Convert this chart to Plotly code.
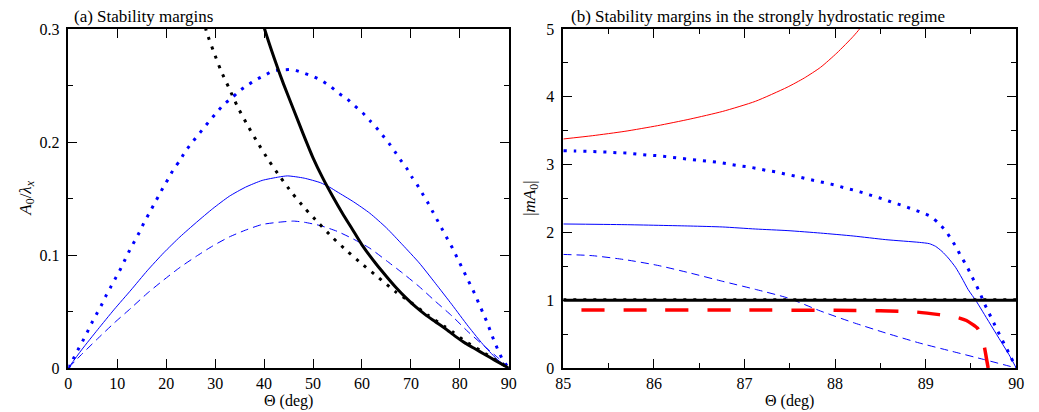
import plotly.graph_objects as go

# ---------------- Panel (a) data ----------------
a_blue_dot_x = [0, 1.0, 1.95, 2.95, 3.9, 4.8, 5.8, 6.8, 7.7, 8.7, 9.7, 10.7, 11.6, 12.5, 13.5, 14.5, 15.4,
                16.4, 17.4, 18.4, 19.4, 20.5, 21.5, 22.7, 23.8, 25.0, 26.3, 27.6, 28.9, 30.3, 31.7, 33.4,
                34.9, 36.5, 38.3, 40.1, 41.9, 44.3, 46.0, 48.1, 50.0, 51.9, 53.6, 55.3, 57.0, 58.5, 60.1,
                61.6, 62.9, 64.2, 65.5, 66.8, 67.9, 69.1, 70.2, 71.3, 72.4, 73.5, 74.5, 75.5, 76.5, 77.5,
                78.5, 79.4, 80.3, 81.2, 82.1, 83.0, 83.8, 84.7, 85.5, 86.3, 87.0, 87.9, 88.8, 90.0]
a_blue_dot_y = [0, 0.008, 0.016, 0.024, 0.032, 0.040, 0.048, 0.056, 0.064, 0.072, 0.080, 0.088, 0.096,
                0.104, 0.112, 0.120, 0.128, 0.136, 0.144, 0.152, 0.160, 0.168, 0.176, 0.183, 0.191, 0.198,
                0.205, 0.212, 0.219, 0.226, 0.233, 0.239, 0.245, 0.250, 0.255, 0.259, 0.263, 0.264, 0.264,
                0.261, 0.258, 0.254, 0.249, 0.243, 0.238, 0.232, 0.226, 0.219, 0.213, 0.206, 0.199, 0.191,
                0.184, 0.177, 0.169, 0.162, 0.154, 0.146, 0.138, 0.130, 0.122, 0.114, 0.106, 0.098, 0.090,
                0.082, 0.074, 0.066, 0.058, 0.049, 0.041, 0.032, 0.024, 0.015, 0.007, 0.0]

a_blue_solid_x = [0, 2.7, 6.0, 9.4, 12.8, 16.1, 19.5, 22.8, 26.2, 29.5, 32.9, 36.2, 39.6, 43.0, 44.8,
                  48.2, 51.5, 53.4, 54.9, 58.3, 61.6, 65.0, 68.3, 71.7, 75.0, 78.4, 81.7, 85.1, 87.8, 90.0]
a_blue_solid_y = [0, 0.016, 0.034, 0.052, 0.069, 0.086, 0.102, 0.116, 0.129, 0.141, 0.152, 0.160, 0.166,
                  0.169, 0.170, 0.168, 0.164, 0.160, 0.156, 0.147, 0.137, 0.124, 0.109, 0.093, 0.075,
                  0.056, 0.037, 0.019, 0.007, 0.0]

a_blue_dash_x = [0, 2.7, 6.0, 9.4, 12.8, 16.1, 19.5, 22.8, 26.2, 29.5, 32.9, 36.2, 39.6, 43.0, 46.0,
                 48.2, 51.5, 54.9, 58.3, 61.6, 65.0, 68.3, 71.7, 75.0, 78.4, 81.7, 85.1, 87.8, 90.0]
a_blue_dash_y = [0, 0.012, 0.026, 0.040, 0.053, 0.066, 0.078, 0.089, 0.099, 0.108, 0.116, 0.122, 0.127,
                 0.129, 0.130, 0.129, 0.126, 0.121, 0.114, 0.106, 0.095, 0.084, 0.072, 0.059, 0.046,
                 0.032, 0.019, 0.009, 0.0]

a_black_solid_x = [39.3, 40.1, 42.0, 44.0, 46.0, 48.0, 50.0, 52.0, 54.0, 56.0, 58.0, 60.0, 62.9, 65.0,
                   67.0, 69.0, 71.0, 73.0, 75.0, 77.0, 79.1, 81.1, 83.1, 85.1, 87.1, 90.0]
a_black_solid_y = [0.312, 0.300, 0.275, 0.251, 0.229, 0.207, 0.186, 0.168, 0.152, 0.137, 0.123, 0.109,
                   0.092, 0.081, 0.071, 0.062, 0.054, 0.047, 0.041, 0.035, 0.028, 0.022, 0.017, 0.012,
                   0.007, 0.0]

a_black_dot_x = [27.6, 28.2, 29.6, 31.1, 32.8, 34.6, 36.6, 38.6, 40.9, 43.3, 45.7, 48.4, 51.2, 54.1, 57.1,
                 60.3, 63.4, 66.7, 70.0, 73.4, 76.8, 78.5, 81.0, 84.0, 87.0, 90.0]
a_black_dot_y = [0.31, 0.298, 0.281, 0.264, 0.248, 0.231, 0.215, 0.200, 0.184, 0.169, 0.155, 0.141,
                 0.128, 0.115, 0.103, 0.091, 0.080, 0.068, 0.058, 0.047, 0.037, 0.032, 0.024, 0.016,
                 0.008, 0.0]

# ---------------- Panel (b) data ----------------
b_red_solid_x = [85.0, 85.32, 85.68, 86.04, 86.40, 86.76, 87.12, 87.47, 87.66, 87.84, 88.02, 88.20, 88.27, 88.35]
b_red_solid_y = [3.378, 3.426, 3.491, 3.574, 3.672, 3.785, 3.933, 4.14, 4.277, 4.435, 4.646, 4.89, 5.0, 5.15]

b_blue_dot_x = [85.0, 85.14, 85.26, 85.37, 85.48, 85.59, 85.70, 85.81, 85.92, 86.03, 86.14, 86.25, 86.36,
                86.47, 86.58, 86.69, 86.80, 86.91, 87.02, 87.13, 87.24, 87.35, 87.45, 87.57, 87.68, 87.79,
                87.90, 88.01, 88.11, 88.22, 88.33, 88.43, 88.54, 88.64, 88.75, 88.85, 88.96, 89.06, 89.14,
                89.22, 89.28, 89.34, 89.39, 89.45, 89.50, 89.55, 89.60, 89.64, 89.69, 89.74, 89.79, 89.84,
                89.89, 89.94, 90.0]
b_blue_dot_y = [3.205, 3.20, 3.196, 3.19, 3.186, 3.176, 3.171, 3.156, 3.142, 3.132, 3.117, 3.100, 3.083,
                3.068, 3.053, 3.038, 3.014, 2.989, 2.970, 2.945, 2.915, 2.891, 2.861, 2.827, 2.792, 2.760,
                2.729, 2.694, 2.655, 2.620, 2.576, 2.532, 2.488, 2.439, 2.394, 2.345, 2.291, 2.232, 2.139,
                2.026, 1.903, 1.775, 1.647, 1.514, 1.377, 1.244, 1.106, 0.973, 0.836, 0.698, 0.560, 0.428,
                0.295, 0.162, 0.0]

b_blue_solid_x = [85.0, 85.68, 86.40, 86.76, 87.12, 87.48, 87.84, 88.20, 88.56, 88.93, 89.04, 89.11, 89.18,
                  89.25, 89.33, 89.40, 89.47, 89.56, 89.65, 89.74, 89.83, 89.92, 90.0]
b_blue_solid_y = [2.124, 2.114, 2.094, 2.080, 2.050, 2.026, 1.990, 1.947, 1.893, 1.853, 1.834, 1.794, 1.720,
                  1.622, 1.485, 1.327, 1.155, 0.983, 0.787, 0.590, 0.393, 0.197, 0.0]

b_blue_dash_x = [85.0, 85.32, 85.68, 86.04, 86.40, 86.76, 87.12, 87.48, 87.84, 88.20, 88.56, 88.93, 89.29,
                 89.65, 90.0]
b_blue_dash_y = [1.675, 1.657, 1.598, 1.514, 1.401, 1.278, 1.160, 1.032, 0.840, 0.670, 0.516, 0.369, 0.246,
                 0.123, 0.0]

b_black_x = [85.0, 90.0]
b_black_y = [1.0, 1.0]
b_black_dot_y = [1.015, 1.015]

b_red_dash_x = [85.2, 86.0, 87.0, 88.0, 88.5, 88.9, 89.15, 89.35, 89.45, 89.57, 89.60, 89.63, 89.65,
                89.67, 89.69]
b_red_dash_y = [0.855, 0.855, 0.855, 0.85, 0.843, 0.825, 0.787, 0.745, 0.70, 0.59, 0.52, 0.40, 0.30,
                0.15, 0.0]

BLUE = "#0000ff"
RED = "#ff0000"
BLACK = "#000000"
FONT = "Liberation Serif"

fig = go.Figure()

def add(x, y, color, width, dash, xa="x", ya="y", smooth=True):
    fig.add_trace(go.Scatter(x=x, y=y, mode="lines", xaxis=xa, yaxis=ya,
                             line=dict(color=color, width=width, dash=dash,
                                       shape="spline" if smooth else "linear",
                                       smoothing=0.6),
                             showlegend=False, hoverinfo="skip"))

DOT = "3px,7px"
# Panel (a)
add(a_blue_dot_x, a_blue_dot_y, BLUE, 3, DOT)
add(a_blue_solid_x, a_blue_solid_y, BLUE, 1, "solid")
add(a_blue_dash_x, a_blue_dash_y, BLUE, 1, "8px,5px")
add(a_black_dot_x, a_black_dot_y, BLACK, 3, DOT)
add(a_black_solid_x, a_black_solid_y, BLACK, 3, "solid")

# Panel (b)
add(b_blue_dot_x, b_blue_dot_y, BLUE, 3, DOT, "x2", "y2")
add(b_blue_solid_x, b_blue_solid_y, BLUE, 1, "solid", "x2", "y2")
add(b_blue_dash_x, b_blue_dash_y, BLUE, 1, "8px,5px", "x2", "y2")
add(b_black_x, b_black_dot_y, BLACK, 2, DOT, "x2", "y2", smooth=False)
add(b_black_x, b_black_y, BLACK, 3, "solid", "x2", "y2", smooth=False)
add(b_red_solid_x, b_red_solid_y, RED, 1, "solid", "x2", "y2")
add(b_red_dash_x, b_red_dash_y, RED, 3.5, "23px,19px", "x2", "y2")

W, H = 1039, 412
L1, R1 = 61.3, 508.6
L2, R2 = 564.0, 1024.0
TOP, BOT = 29, 368

axis_common = dict(showline=True, linecolor=BLACK, linewidth=1.5, mirror="allticks",
                   ticks="inside", ticklen=9, tickwidth=1, tickcolor=BLACK,
                   showgrid=False, zeroline=False,
                   tickfont=dict(family=FONT, size=16, color=BLACK))

fig.update_layout(
    width=W, height=H,
    margin=dict(l=0, r=0, t=TOP, b=H - BOT),
    paper_bgcolor="white", plot_bgcolor="white",
    xaxis=dict(domain=[L1 / W, R1 / W], range=[0, 90], tickvals=[0, 10, 20, 30, 40, 50, 60, 70, 80, 90],
               anchor="y", **axis_common),
    yaxis=dict(domain=[0, 1], range=[0, 0.3], tickvals=[0, 0.1, 0.2, 0.3],
               ticktext=["0", "0.1", "0.2", "0.3"], anchor="x", ticklabelstandoff=4,
               minor=dict(tickvals=[0.05, 0.15, 0.25], ticklen=5, ticks="inside", tickcolor=BLACK),
               **axis_common),
    xaxis2=dict(domain=[L2 / W, R2 / W], range=[85, 90], tickvals=[85, 86, 87, 88, 89, 90],
                anchor="y2",
                minor=dict(tickvals=[85.5, 86.5, 87.5, 88.5, 89.5], ticklen=5, ticks="inside", tickcolor=BLACK),
                **axis_common),
    yaxis2=dict(domain=[0, 1], range=[0, 5], tickvals=[0, 1, 2, 3, 4, 5], anchor="x2", ticklabelstandoff=4,
                minor=dict(tickvals=[0.5, 1.5, 2.5, 3.5, 4.5], ticklen=5, ticks="inside", tickcolor=BLACK),
                **axis_common),
)

PH = BOT - TOP
def py(pix):
    return (BOT - pix) / PH

ann_font = dict(family=FONT, size=17, color=BLACK)
lab_font = dict(family=FONT, size=16, color=BLACK)
fig.add_annotation(text="(a) Stability margins", xref="paper", yref="paper",
                   x=65 / W, y=py(17), xanchor="left", yanchor="middle", showarrow=False, font=ann_font)
fig.add_annotation(text="(b) Stability margins in the strongly hydrostatic regime", xref="paper", yref="paper",
                   x=570 / W, y=py(17), xanchor="left", yanchor="middle", showarrow=False, font=ann_font)
fig.add_annotation(text="Θ (deg)", xref="paper", yref="paper",
                   x=(L1 + R1) / 2 / W, y=py(401), xanchor="center", yanchor="middle", showarrow=False,
                   font=lab_font)
fig.add_annotation(text="Θ (deg)", xref="paper", yref="paper",
                   x=(L2 + R2) / 2 / W, y=py(401), xanchor="center", yanchor="middle", showarrow=False,
                   font=lab_font)
fig.add_annotation(text="<i>A</i><sub>0</sub>/<i>λ<sub>x</sub></i>", xref="paper", yref="paper",
                   x=19 / W, y=py(198), xanchor="center", yanchor="middle", textangle=-90,
                   showarrow=False, font=ann_font)
fig.add_annotation(text="|<i>mA</i><sub>0</sub>|", xref="paper", yref="paper",
                   x=531 / W, y=py(198), xanchor="center", yanchor="middle", textangle=-90,
                   showarrow=False, font=ann_font)

fig.write_html("out.html")
